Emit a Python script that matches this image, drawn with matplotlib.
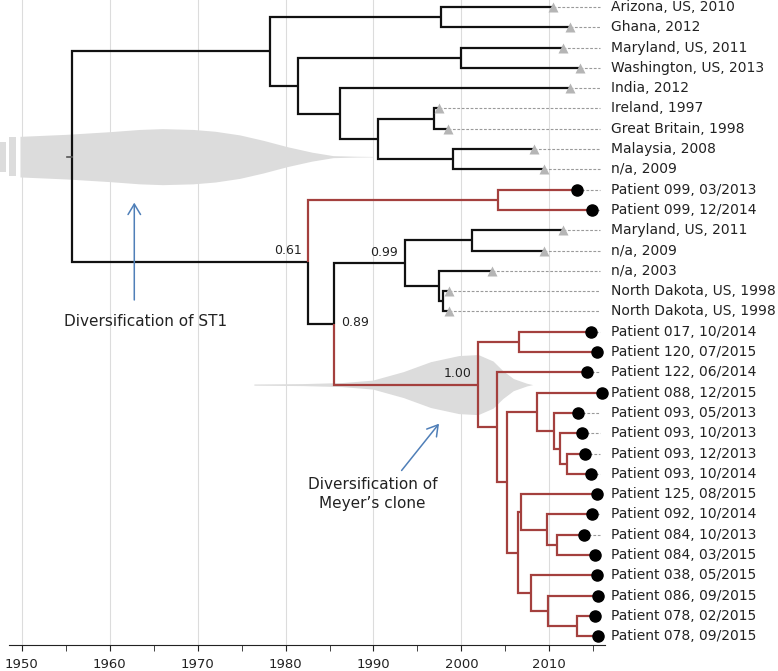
import matplotlib
matplotlib.use("Agg")
import matplotlib.pyplot as plt
from matplotlib.patches import FancyArrowPatch

# tips, top to bottom
tip_labels = [
    "Arizona, US, 2010", "Ghana, 2012", "Maryland, US, 2011", "Washington, US, 2013",
    "India, 2012", "Ireland, 1997", "Great Britain, 1998", "Malaysia, 2008", "n/a, 2009",
    "Patient 099, 03/2013", "Patient 099, 12/2014", "Maryland, US, 2011", "n/a, 2009",
    "n/a, 2003", "North Dakota, US, 1998", "North Dakota, US, 1998",
    "Patient 017, 10/2014", "Patient 120, 07/2015", "Patient 122, 06/2014",
    "Patient 088, 12/2015", "Patient 093, 05/2013", "Patient 093, 10/2013",
    "Patient 093, 12/2013", "Patient 093, 10/2014", "Patient 125, 08/2015",
    "Patient 092, 10/2014", "Patient 084, 10/2013", "Patient 084, 03/2015",
    "Patient 038, 05/2015", "Patient 086, 09/2015", "Patient 078, 02/2015",
    "Patient 078, 09/2015",
]
tip_years = [
    2010.4, 2012.4, 2011.5, 2013.5, 2012.4, 1997.4, 1998.5, 2008.3, 2009.4,
    2013.1, 2014.9, 2011.5, 2009.4, 2003.5, 1998.6, 1998.6,
    2014.7, 2015.4, 2014.3, 2016.0, 2013.3, 2013.75, 2014.0, 2014.7, 2015.4,
    2014.8, 2013.9, 2015.2, 2015.4, 2015.5, 2015.2, 2015.5,
]

# internal nodes (children: int = tip index, str = node name)
node_names = ["root", "A", "AZGH", "B", "MDWA", "C", "D", "IRGB", "MYNA",
              "E", "P099", "F", "G", "H", "I", "J", "K", "K1", "L", "M", "N",
              "O", "P", "Q", "R", "S", "T", "U", "V", "W", "X"]
node_years = [1955.7, 1978.2, 1997.7, 1981.4, 2000.0, 1986.2, 1990.5, 1996.9, 1999.05,
              1982.6, 2004.2, 1985.55, 1993.6, 2001.2, 1997.4, 1997.95, 2001.9, 2006.6,
              2004.05, 2005.15, 2008.55, 2010.55, 2011.2, 2011.95, 2006.4, 2006.8,
              2009.75, 2010.9, 2007.9, 2009.85, 2013.2]
node_kids = [["A", "E"], ["AZGH", "B"], [0, 1], ["MDWA", "C"], [2, 3], [4, "D"],
             ["IRGB", "MYNA"], [5, 6], [7, 8], ["P099", "F"], [9, 10], ["G", "K"],
             ["H", "I"], [11, 12], [13, "J"], [14, 15], ["K1", "L"], [16, 17], [18, "M"],
             ["N", "R"], [19, "O"], [20, "P"], [21, "Q"], [22, 23], ["S", "V"], [24, "T"],
             [25, "U"], [26, 27], [28, "W"], [29, "X"], [30, 31]]
red_clades = ["P099", "K"]
support = {"E": "0.61", "G": "0.99", "K": "1.00"}
support_right = {"F": "0.89"}

# age densities (year, half width in rows)
st1_years = [1949.8, 1955.1, 1960.0, 1963.4, 1966.0, 1969.5, 1972.0, 1974.8,
             1977.5, 1980.2, 1983.0, 1985.4, 1988.0, 1989.9]
st1_half = [1.0, 1.1, 1.23, 1.34, 1.38, 1.34, 1.25, 1.07, 0.8, 0.49, 0.22, 0.05, 0.02, 0.01]
st1_tail_years = [(1947.5, 1948.26), (1948.6, 1949.3)]
st1_tail_half = [0.74, 0.96]
meyer_years = [1976.4, 1982.0, 1986.4, 1989.9, 1993.4, 1996.5, 1999.7, 2001.9,
               2003.6, 2004.7, 2005.9, 2007.4, 2008.1]
meyer_half = [0.03, 0.05, 0.1, 0.22, 0.64, 1.13, 1.43, 1.48, 1.16, 0.69, 0.3, 0.07, 0.0]

RED = "#a4403e"
BLACK = "#111111"
GREY = "#dcdcdc"
TXT = "#222222"

nodes = dict(zip(node_names, zip(node_years, node_kids)))


def ypos(k):
    if isinstance(k, int):
        return float(k)
    kids = nodes[k][1]
    return (ypos(kids[0]) + ypos(kids[-1])) / 2


def xpos(k):
    return tip_years[k] if isinstance(k, int) else nodes[k][0]


fig = plt.figure(figsize=(7.78, 6.71), dpi=100)
ax = fig.add_axes([0, 26 / 671, 1, 645 / 671])
ax.set_xlim(1947.53, 2036.0)
ax.set_ylim(31.43, -0.345)

# densities
root_y = ypos("root")
k_y = ypos("K")
ax.fill_between(st1_years, [root_y - h for h in st1_half], [root_y + h for h in st1_half],
                color=GREY, lw=0, zorder=1)
for (x0, x1), h in zip(st1_tail_years, st1_tail_half):
    ax.fill_between([x0, x1], root_y - h, root_y + h, color=GREY, lw=0, zorder=1)
ax.fill_between(meyer_years, [k_y - h for h in meyer_half], [k_y + h for h in meyer_half],
                color=GREY, lw=0, zorder=1)

# branches


def draw(name, red):
    x, kids = nodes[name]
    y = ypos(name)
    for c in kids:
        c_red = red or (c in red_clades)
        cy = ypos(c)
        ax.plot([x, x, xpos(c)], [y, cy, cy], color=RED if c_red else BLACK,
                lw=1.6, zorder=3, solid_joinstyle="miter", solid_capstyle="butt")
        if not isinstance(c, int):
            draw(c, c_red)


draw("root", False)
ax.plot([1955.1, nodes["root"][0]], [root_y, root_y], color="#555555", lw=1.2, zorder=3)

# tips
dash_end = 2015.77
for i, (lab, yr) in enumerate(zip(tip_labels, tip_years)):
    if yr < dash_end - 0.3:
        ax.plot([yr, dash_end], [i, i], color="#9a9a9a", lw=0.8,
                ls=(0, (2.5, 1.5)), zorder=2)
    if lab.startswith("Patient"):
        ax.plot(yr, i, "o", color="black", ms=8.0, zorder=4)
    else:
        ax.plot(yr, i, "^", color="#b5b5b5", ms=7.3, mec="none", zorder=4)
    ax.text(2016.97, i, lab, fontsize=10, color=TXT, va="center", ha="left")

# posterior support
for n, s in support.items():
    ax.annotate(s, (nodes[n][0], ypos(n)), xytext=(-7, 11), textcoords="offset pixels",
                ha="right", va="center", fontsize=9, color=TXT)
for n, s in support_right.items():
    ax.annotate(s, (nodes[n][0], ypos(n)), xytext=(7, 1), textcoords="offset pixels",
                ha="left", va="center", fontsize=9, color=TXT)

# annotations
arrow_kw = dict(arrowstyle="->,head_length=0.75,head_width=0.45", mutation_scale=10,
                color="#4f7fb8", lw=1.1, zorder=5)
ax.add_patch(FancyArrowPatch((1962.8, 14.57), (1962.8, 9.5), **arrow_kw))
ax.add_patch(FancyArrowPatch((1993.0, 22.94), (1997.65, 20.42), **arrow_kw))
ax.text(1964.1, 15.5, "Diversification of ST1", fontsize=11, color=TXT, ha="center", va="center")
ax.text(1989.9, 24.0, "Diversification of\nMeyer\u2019s clone", fontsize=11, color=TXT,
        ha="center", va="center", linespacing=1.3)

# axis
for s in ["top", "left", "right"]:
    ax.spines[s].set_visible(False)
ax.spines["bottom"].set_bounds(1948.6, 2016.35)
ax.spines["bottom"].set_color("#222222")
ax.set_xticks(range(1950, 2011, 10))
ax.set_xticks(range(1955, 2016, 10), minor=True)
ax.tick_params(axis="x", which="both", length=4, color="#222222", labelsize=9.5,
               labelcolor=TXT, pad=5)
ax.set_yticks([])
ax.grid(axis="x", which="major", color="#dcdcdc", lw=0.8)
ax.set_axisbelow(True)

fig.savefig("out.png", dpi=100)
